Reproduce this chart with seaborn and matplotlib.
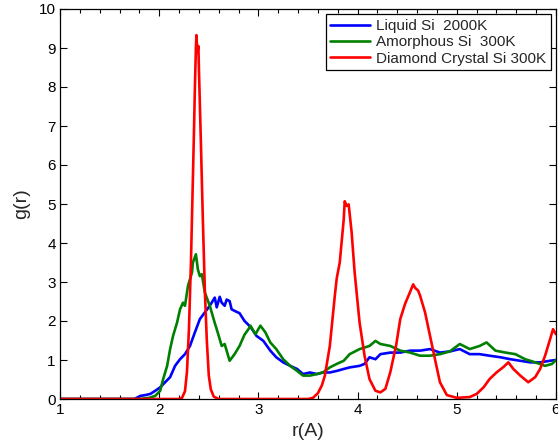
import numpy as np
import pandas as pd
import matplotlib
matplotlib.use("Agg")
import matplotlib.pyplot as plt
import seaborn as sns
from matplotlib.ticker import MultipleLocator

# Liquid Si 2000K
r_liquid = [1.0, 1.75, 1.81, 1.86, 1.91, 1.96, 2.01, 2.06, 2.11, 2.16, 2.21, 2.26, 2.31, 2.36,
            2.41, 2.46, 2.51, 2.56, 2.58, 2.61, 2.63, 2.66, 2.68, 2.71, 2.73, 2.76, 2.81, 2.86,
            2.92, 2.98, 3.05, 3.12, 3.18, 3.25, 3.32, 3.39, 3.45, 3.52, 3.59, 3.65, 3.72, 3.79,
            3.86, 3.92, 4.02, 4.07, 4.12, 4.18, 4.23, 4.33, 4.43, 4.53, 4.63, 4.73, 4.83, 4.93,
            5.03, 5.13, 5.23, 5.33, 5.44, 5.54, 5.64, 5.74, 5.84, 5.94, 6.0]
g_liquid = [0, 0, 0.08, 0.10, 0.13, 0.21, 0.30, 0.43, 0.56, 0.85, 1.02, 1.15, 1.36, 1.71,
            2.05, 2.22, 2.39, 2.60, 2.35, 2.62, 2.47, 2.39, 2.55, 2.51, 2.30, 2.26, 2.20, 2.00,
            1.85, 1.62, 1.49, 1.24, 1.07, 0.94, 0.85, 0.77, 0.64, 0.68, 0.64, 0.68, 0.68, 0.72,
            0.77, 0.81, 0.85, 0.90, 1.07, 1.02, 1.15, 1.19, 1.19, 1.24, 1.24, 1.28, 1.19, 1.22,
            1.28, 1.15, 1.15, 1.11, 1.07, 1.02, 0.98, 0.94, 0.94, 0.98, 1.0]

# Amorphous Si 300K
r_amorph = [1.0, 1.80, 1.90, 1.96, 2.01, 2.04, 2.08, 2.11, 2.14, 2.18, 2.21, 2.24, 2.26, 2.29,
            2.33, 2.34, 2.37, 2.39, 2.41, 2.43, 2.46, 2.51, 2.56, 2.58, 2.63, 2.66, 2.71, 2.76,
            2.81, 2.86, 2.90, 2.92, 2.97, 3.02, 3.07, 3.12, 3.18, 3.25, 3.32, 3.39, 3.45, 3.52,
            3.59, 3.65, 3.72, 3.79, 3.86, 3.92, 4.02, 4.12, 4.18, 4.23, 4.33, 4.43, 4.53, 4.63,
            4.73, 4.83, 4.93, 5.03, 5.13, 5.23, 5.30, 5.39, 5.49, 5.59, 5.69, 5.79, 5.89, 5.96, 6.0]
g_amorph = [0, 0, 0.03, 0.08, 0.21, 0.51, 0.85, 1.28, 1.62, 1.96, 2.30, 2.47, 2.39, 2.90,
            3.24, 3.50, 3.71, 3.32, 3.15, 3.20, 2.73, 2.39, 1.95, 1.79, 1.36, 1.41, 0.98, 1.15,
            1.36, 1.65, 1.79, 1.88, 1.66, 1.88, 1.71, 1.45, 1.28, 1.02, 0.85, 0.72, 0.60, 0.60,
            0.64, 0.68, 0.81, 0.90, 0.98, 1.15, 1.28, 1.36, 1.49, 1.41, 1.36, 1.24, 1.19, 1.11,
            1.11, 1.15, 1.22, 1.41, 1.28, 1.36, 1.45, 1.24, 1.19, 1.15, 1.02, 0.94, 0.85, 0.90, 1.0]

# Diamond Crystal Si 300K
r_diamond = [1.0, 2.20, 2.23, 2.26, 2.28, 2.30, 2.32, 2.33, 2.35, 2.36, 2.37, 2.375, 2.385, 2.395,
             2.40, 2.42, 2.44, 2.46, 2.48, 2.50, 2.52, 2.55, 2.60, 3.50, 3.55, 3.60, 3.64, 3.67,
             3.72, 3.77, 3.79, 3.82, 3.86, 3.87, 3.89, 3.91, 3.94, 3.97, 4.02, 4.07, 4.12, 4.18,
             4.23, 4.28, 4.33, 4.39, 4.43, 4.48, 4.53, 4.56, 4.58, 4.61, 4.63, 4.68, 4.73, 4.78,
             4.83, 4.90, 5.0, 5.13, 5.20, 5.27, 5.33, 5.40, 5.47, 5.52, 5.57, 5.64, 5.72, 5.79,
             5.84, 5.89, 5.94, 5.97, 6.0]
g_diamond = [0, 0, 0.03, 0.2, 0.7, 1.8, 3.5, 4.6, 6.8, 8.0, 9.0, 9.33, 8.9, 9.05,
             8.5, 6.6, 4.6, 2.8, 1.5, 0.6, 0.25, 0.06, 0, 0, 0.03, 0.15, 0.35, 0.6,
             1.36, 2.64, 3.1, 3.5, 4.6, 5.07, 4.95, 4.99, 4.27, 3.25, 1.96, 1.11, 0.51, 0.21,
             0.17, 0.26, 0.69, 1.40, 2.05, 2.45, 2.75, 2.94, 2.85, 2.78, 2.65, 2.22, 1.62, 1.02,
             0.43, 0.10, 0.03, 0.05, 0.13, 0.30, 0.51, 0.68, 0.82, 0.94, 0.77, 0.60, 0.43, 0.56,
             0.77, 1.11, 1.53, 1.79, 1.66]

labels = ["Liquid Si  2000K", "Amorphous Si  300K", "Diamond Crystal Si 300K"]
colors = ["#0000ff", "#008000", "#ff0000"]

df = pd.concat([
    pd.DataFrame({"r": r_liquid, "g": g_liquid, "series": labels[0]}),
    pd.DataFrame({"r": r_amorph, "g": g_amorph, "series": labels[1]}),
    pd.DataFrame({"r": r_diamond, "g": g_diamond, "series": labels[2]}),
], ignore_index=True)

sns.set_style("ticks")
plt.rcParams["font.family"] = ["Liberation Sans", "DejaVu Sans"]

fig = plt.figure(figsize=(5.58, 4.44), dpi=100)
ax = fig.add_axes([60 / 558, 45 / 444, 496 / 558, 390 / 444])

sns.lineplot(data=df, x="r", y="g", hue="series", palette=dict(zip(labels, colors)),
             hue_order=labels, estimator=None, sort=False, linewidth=1.9, ax=ax)

ax.set_xlim(1, 6)
ax.set_ylim(0, 10)
ax.xaxis.set_major_locator(MultipleLocator(1))
ax.xaxis.set_minor_locator(MultipleLocator(0.2))
ax.yaxis.set_major_locator(MultipleLocator(1))
ax.tick_params(which="both", direction="in", top=True, right=True, labelsize=11, colors="black")
ax.tick_params(which="major", length=5, width=0.8, pad=3)
ax.tick_params(which="minor", length=3, width=0.8)
for s in ax.spines.values():
    s.set_color("black")
    s.set_linewidth(0.9)

ax.set_xlabel("r(A)", fontsize=14, labelpad=4)
ax.set_ylabel("g(r)", fontsize=14, labelpad=6)

leg = ax.legend(loc="upper right", fontsize=11, frameon=True, fancybox=False,
                edgecolor="black", framealpha=1, borderaxespad=0.35,
                labelspacing=0.15, handlelength=2.6, handletextpad=0.4, borderpad=0.3)
leg.get_frame().set_linewidth(0.9)

fig.savefig("out.png", dpi=100)
